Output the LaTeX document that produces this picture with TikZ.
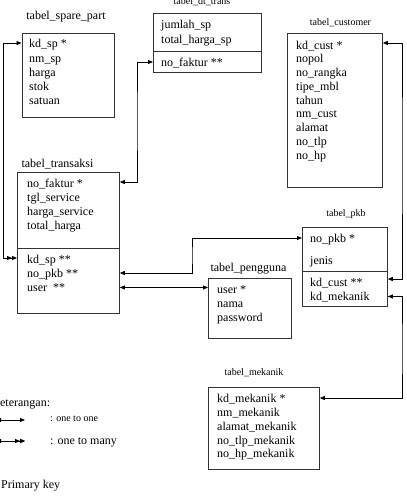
\documentclass[tikz,border=0pt]{standalone}
\usepackage{fontspec}
\setmainfont{Liberation Serif}
\usetikzlibrary{arrows.meta}
\tikzset{
  tbox/.style={draw=black!80, line width=0.8pt, anchor=north west, inner sep=0pt},
  fld/.style={anchor=base west, inner sep=0pt, font=\fontsize{12}{14}\selectfont},
  ttlL/.style={anchor=base, inner sep=0pt, font=\fontsize{12}{14}\selectfont},
  ttlS/.style={anchor=base, inner sep=0pt, font=\fontsize{10}{12}\selectfont},
  conn/.style={draw=black, line width=0.8pt},
  one/.style={{Triangle[length=5pt,width=4pt]}-{Triangle[length=5pt,width=4pt]}},
  many/.style={{Triangle[length=5pt,width=4pt]}-{Triangle[length=5pt,width=4pt]Triangle[length=5pt,width=4pt]}},
  divl/.style={draw=black!80, line width=0.8pt}
}
\begin{document}
\begin{tikzpicture}[x=1pt,y=-1pt]
\useasboundingbox (0,0) rectangle (407,499);

% ---- tabel_spare_part
\node[ttlL] (tsp) at (66,19) {tabel\_spare\_part};
\node[tbox, minimum width=92.5pt, minimum height=84pt] (sp) at (21.5,33) {};
\node[fld] (sp1) at (29,47) {kd\_sp *};
\node[fld] (sp2) at (29,62) {nm\_sp};
\node[fld] (sp3) at (29,76) {harga};
\node[fld] (sp4) at (29,90) {stok};
\node[fld] (sp5) at (29,104) {satuan};

% ---- tabel_dt_trans
\node[ttlS] (tdt) at (202,4) {tabel\_dt\_trans};
\node[tbox, minimum width=108pt, minimum height=59pt] (dt) at (153,13) {};
\draw[divl] (dt.west |- 0,51) -- (dt.east |- 0,51);
\node[fld] (dt1) at (161,28) {jumlah\_sp};
\node[fld] (dt2) at (161,43) {total\_harga\_sp};
\node[fld] (dt3) at (161,66) {no\_faktur **};

% ---- tabel_customer
\node[ttlS] (tcu) at (340.5,25.5) {tabel\_customer};
\node[tbox, minimum width=95pt, minimum height=154pt] (cu) at (287,33) {};
\node[fld] (cu1) at (296,49) {kd\_cust *};
\node[fld] (cu2) at (296,62.75) {nopol};
\node[fld] (cu3) at (296,76.5) {no\_rangka};
\node[fld] (cu4) at (296,90.25) {tipe\_mbl};
\node[fld] (cu5) at (296,104) {tahun};
\node[fld] (cu6) at (296,117.75) {nm\_cust};
\node[fld] (cu7) at (296,131.5) {alamat};
\node[fld] (cu8) at (296,145.25) {no\_tlp};
\node[fld] (cu9) at (296,159) {no\_hp};

% ---- tabel_transaksi
\node[ttlL] (ttr) at (57.5,167) {tabel\_transaksi};
\node[tbox, minimum width=102pt, minimum height=141pt] (tr) at (17,172) {};
\draw[divl] (tr.west |- 0,248) -- (tr.east |- 0,248);
\node[fld] (tr1) at (27,187) {no\_faktur *};
\node[fld] (tr2) at (27,201) {tgl\_service};
\node[fld] (tr3) at (27,215) {harga\_service};
\node[fld] (tr4) at (27,229) {total\_harga};
\node[fld] (tr5) at (27,263) {kd\_sp **};
\node[fld] (tr6) at (27,277) {no\_pkb **};
\node[fld] (tr7) at (27,291) {user \ **};

% ---- tabel_pkb
\node[ttlS] (tpk) at (346,216) {tabel\_pkb};
\node[tbox, minimum width=85pt, minimum height=79pt] (pk) at (302,227) {};
\draw[divl] (pk.west |- 0,271) -- (pk.east |- 0,271);
\node[fld] (pk1) at (310,242) {no\_pkb *};
\node[fld] (pk2) at (310,264) {jenis};
\node[fld] (pk3) at (310,286) {kd\_cust **};
\node[fld] (pk4) at (310,300) {kd\_mekanik};

% ---- tabel_pengguna
\node[ttlL] (tpg) at (248.5,271.5) {tabel\_pengguna};
\node[tbox, minimum width=83pt, minimum height=60pt] (pg) at (208,278) {};
\node[fld] (pg1) at (217,293) {user *};
\node[fld] (pg2) at (217,307) {nama};
\node[fld] (pg3) at (217,321) {password};

% ---- tabel_mekanik
\node[ttlS] (tmk) at (254,375) {tabel\_mekanik};
\node[tbox, minimum width=111pt, minimum height=82pt] (mk) at (208,387) {};
\node[fld] (mk1) at (217,402) {kd\_mekanik *};
\node[fld] (mk2) at (217,416) {nm\_mekanik};
\node[fld] (mk3) at (217,430) {alamat\_mekanik};
\node[fld] (mk4) at (217,444) {no\_tlp\_mekanik};
\node[fld] (mk5) at (217,457) {no\_hp\_mekanik};

% ---- connectors
\draw[conn, many] (sp.west |- 0,43) -| (3.5,150) |- (tr.west |- 0,258);
\draw[conn, one] (tr.east |- 0,182) -| (137,120) |- (dt.west |- 0,62);
\draw[conn, one] (tr.east |- 0,273) -| (192,255) |- (pk.west |- 0,238);
\draw[conn, one] (tr.east |- 0,287.5) -- (pg.west |- 0,287.5);
\draw[conn, one] (cu.east |- 0,43) -| (402,150) |- (pk.east |- 0,279);
\draw[conn, one] (pk.east |- 0,296.5) -| (402,350) |- (mk.east |- 0,398);

% ---- legend
\node[fld] (ket) at (-8.7,406) {Keterangan:};
\coordinate (l1a) at (-4,420);
\coordinate (l1b) at (25,420);
\draw[conn, one] (l1a) -- (l1b);
\node[anchor=base west, inner sep=0pt, font=\fontsize{10}{12}\selectfont] (l1t) at (50,421) {: one to one};
\coordinate (l2a) at (-4,441);
\coordinate (l2b) at (25,441);
\draw[conn, one] (l2a) -- (l2b);
\draw[conn, -{Triangle[length=5pt,width=4pt]Triangle[length=5pt,width=4pt]}] (l2a) -- (l2b);
\node[fld] (l2t) at (50,444) {: one to many};
\node[fld] (pkey) at (1,488) {Primary key};
\end{tikzpicture}
\end{document}
